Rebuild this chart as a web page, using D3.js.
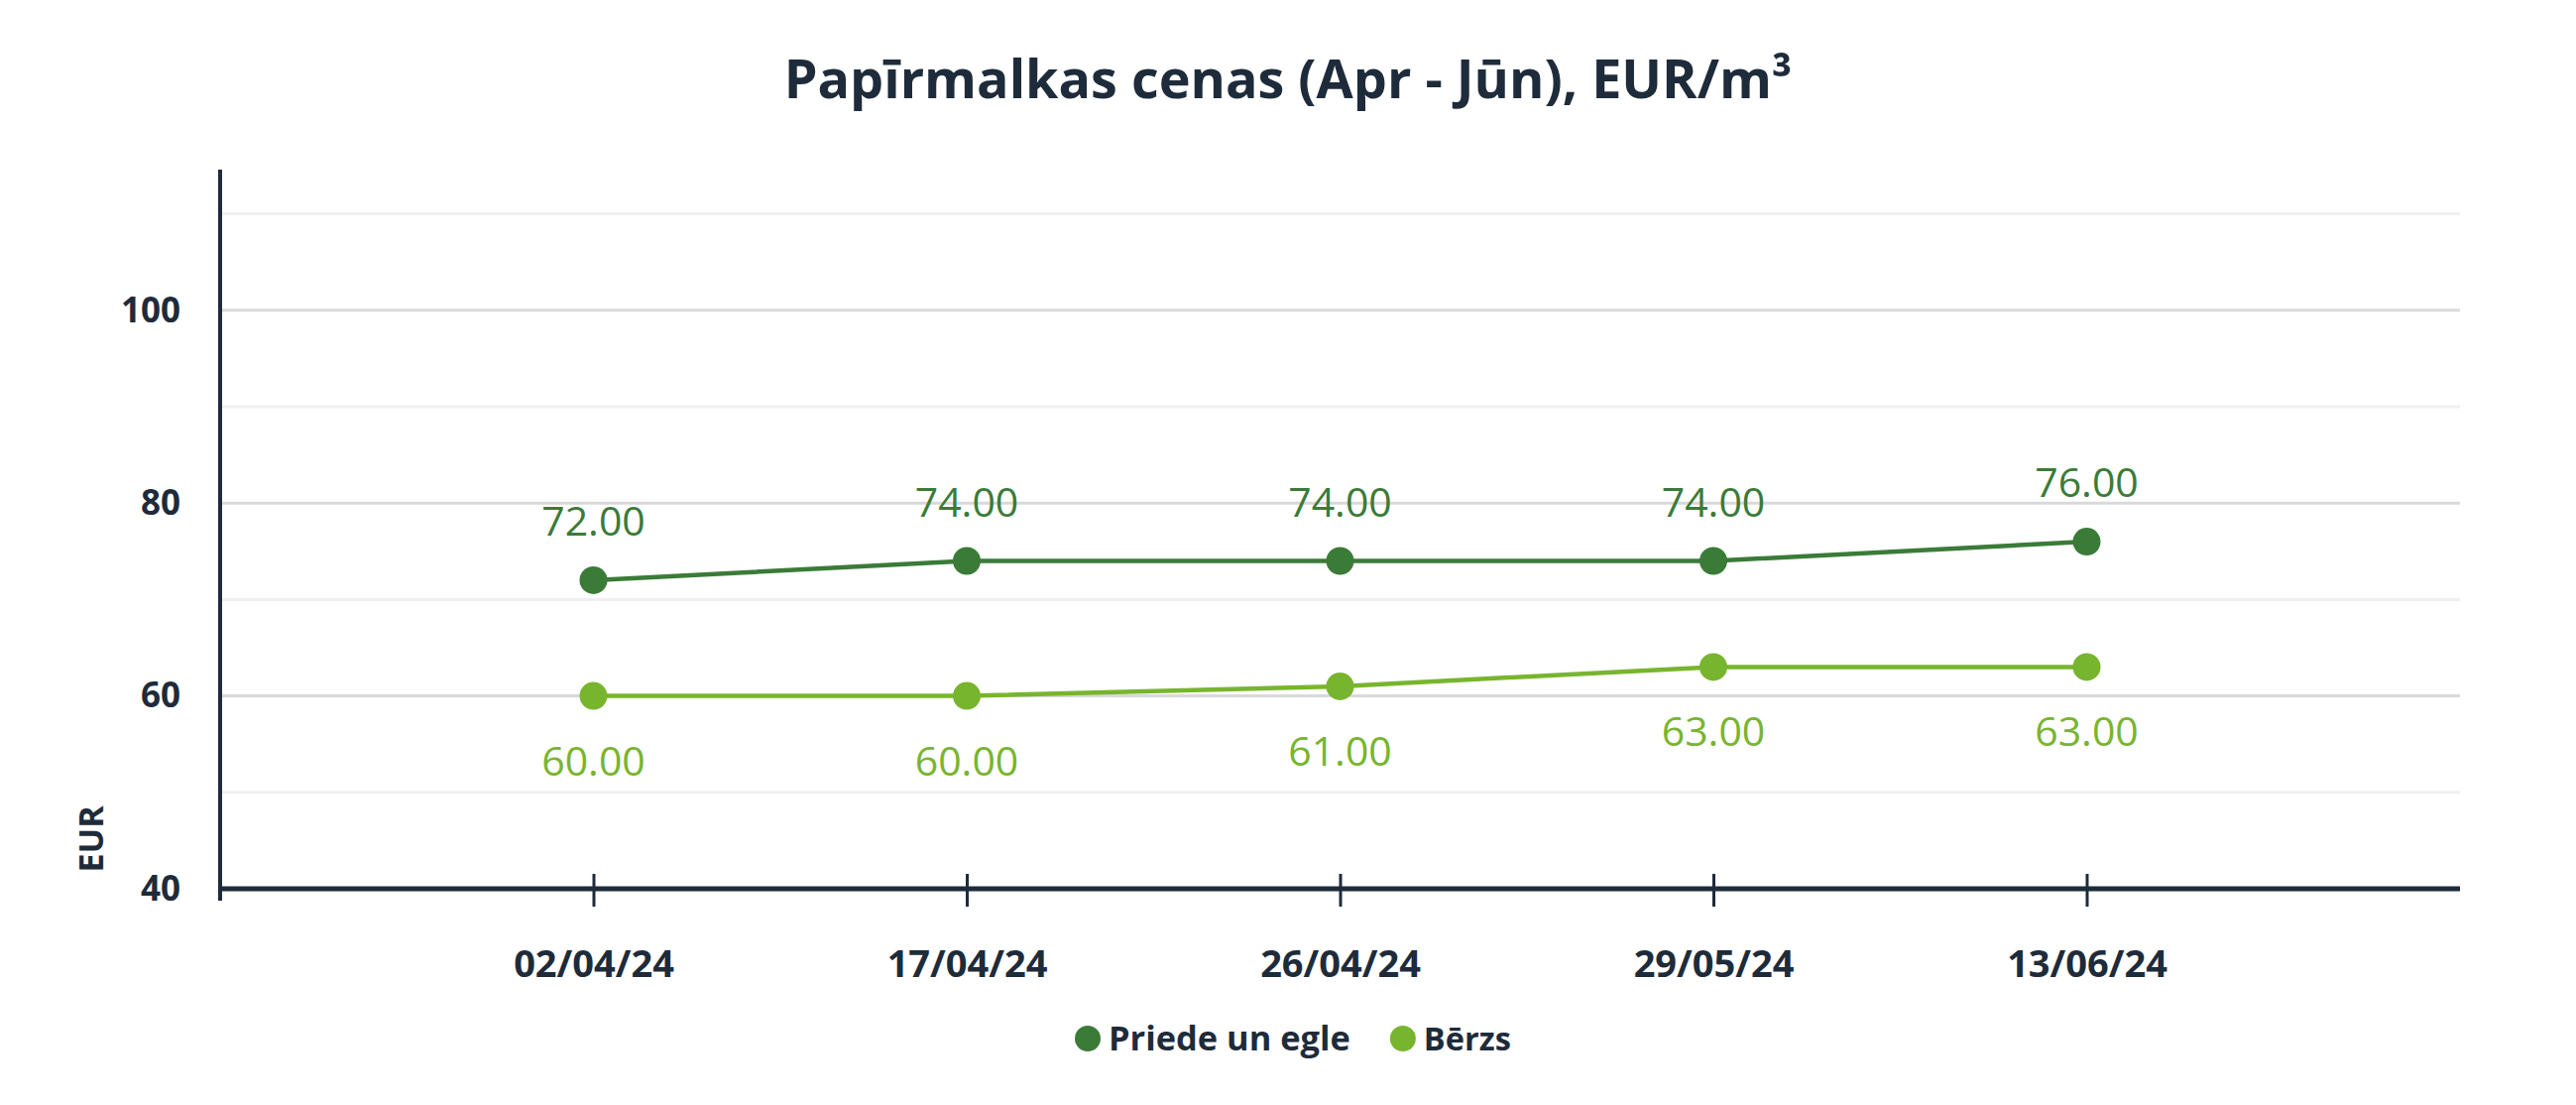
<!DOCTYPE html>
<html>
<head>
<meta charset="utf-8">
<script src="https://cdn.jsdelivr.net/npm/d3@7"></script>
<style>
  html, body { margin: 0; padding: 0; background: #ffffff; }
  svg { display: block; }
</style>
</head>
<body>
<svg id="chart" width="2598" height="1114"></svg>
<script>
// ---- data ----
const title = "Papīrmalkas cenas (Apr - Jūn), EUR/m³";
const categories = ["02/04/24", "17/04/24", "26/04/24", "29/05/24", "13/06/24"];
const seriesNames = ["Priede un egle", "Bērzs"];
const priedeValues = [72, 74, 74, 74, 76];
const berzsValues = [60, 60, 61, 63, 63];
const yTickLabels = [40, 60, 80, 100];
const yGridValues = [50, 60, 70, 80, 90, 100, 110];
const yDomain = [40, 115];
const yAxisTitle = "EUR";

// ---- styles ----
const darkText = "#1e2b3a";
const colors = ["#3a7b38", "#78b52e"];

const svg = d3.select("#chart");
const W = 2598, H = 1114;
const plot = { left: 222, right: 2481, top: 167, bottom: 896 };

const x = d3.scalePoint().domain(categories).range([plot.left, plot.right]).padding(1);
const y = d3.scaleLinear().domain(yDomain).range([plot.bottom, plot.top]);

function fitFont(sel, target) {
  const w = sel.node().getComputedTextLength();
  const fs = parseFloat(sel.attr("font-size"));
  sel.attr("font-size", fs * target / w);
}

// title
const t = svg.append("text")
  .attr("x", W / 2).attr("y", 99)
  .attr("text-anchor", "middle")
  .attr("font-family", "'Open Sans', sans-serif")
  .attr("font-weight", 700)
  .attr("font-size", 56)
  .attr("fill", darkText)
  .text(title);
fitFont(t, 1017);

// gridlines
svg.append("g").selectAll("line")
  .data(yGridValues)
  .join("line")
  .attr("x1", plot.left).attr("x2", plot.right)
  .attr("y1", d => y(d)).attr("y2", d => y(d))
  .attr("stroke", d => (d % 20 === 0 ? "#d9d9d9" : "#f0f0f0"))
  .attr("stroke-width", 3);

// y axis
const yAxis = d3.axisLeft(y).tickValues(yTickLabels).tickSize(0).tickPadding(40).tickFormat(d3.format("d"));
const gy = svg.append("g").attr("transform", `translate(${plot.left},0)`).call(yAxis);
gy.select(".domain").attr("stroke", darkText).attr("stroke-width", 4)
  .attr("d", `M0,${y(yDomain[1]) + 4}V${plot.bottom + 12}`);
gy.selectAll("text")
  .attr("font-family", "'Open Sans', sans-serif")
  .attr("font-weight", 700)
  .attr("font-size", 35)
  .attr("fill", darkText);

// x axis
const xAxis = d3.axisBottom(x).tickSize(0).tickPadding(62);
const gx = svg.append("g").attr("transform", `translate(0,${plot.bottom})`).call(xAxis);
gx.select(".domain").attr("stroke", darkText).attr("stroke-width", 5)
  .attr("d", `M${plot.left},0H${plot.right}`);
gx.selectAll(".tick").append("line")
  .attr("y1", -15).attr("y2", 18)
  .attr("stroke", darkText).attr("stroke-width", 3);
gx.selectAll("text")
  .attr("font-family", "'Open Sans', sans-serif")
  .attr("font-weight", 700)
  .attr("font-size", 38)
  .attr("fill", darkText);

// y axis title
svg.append("text")
  .attr("transform", `translate(104,846) rotate(-90)`)
  .attr("text-anchor", "middle")
  .attr("font-family", "'Open Sans', sans-serif")
  .attr("font-weight", 700)
  .attr("font-size", 34)
  .attr("fill", darkText)
  .text(yAxisTitle);

// series
const series = [
  { name: seriesNames[0], values: priedeValues, color: colors[0], labelDy: -45 },
  { name: seriesNames[1], values: berzsValues, color: colors[1], labelDy: 80 }
];
const line = d3.line().x((d, i) => x(categories[i])).y(d => y(d));

series.forEach(s => {
  const g = svg.append("g");
  g.append("path")
    .attr("d", line(s.values))
    .attr("fill", "none")
    .attr("stroke", s.color)
    .attr("stroke-width", 4.5);
  g.selectAll("circle")
    .data(s.values)
    .join("circle")
    .attr("cx", (d, i) => x(categories[i]))
    .attr("cy", d => y(d))
    .attr("r", 14)
    .attr("fill", s.color);
  g.selectAll("text")
    .data(s.values)
    .join("text")
    .attr("x", (d, i) => x(categories[i]))
    .attr("y", d => y(d) + s.labelDy)
    .attr("text-anchor", "middle")
    .attr("font-family", "'Open Sans', sans-serif")
    .attr("font-size", 41)
    .attr("fill", s.color)
    .text(d => d3.format(".2f")(d));
});

// legend
const legend = svg.append("g");
let cursor = 0;
series.forEach((s, i) => {
  const item = legend.append("g");
  item.append("circle").attr("cx", 13).attr("cy", 0).attr("r", 13).attr("fill", s.color);
  const txt = item.append("text")
    .attr("x", 34).attr("y", 12)
    .attr("font-family", "'Open Sans', sans-serif")
    .attr("font-weight", 700)
    .attr("font-size", 34)
    .attr("fill", darkText)
    .text(s.name);
  fitFont(txt, i === 0 ? 244 : 88);
  const w = 34 + txt.node().getComputedTextLength();
  item.attr("transform", `translate(${cursor},0)`);
  cursor += w + 40;
});
legend.attr("transform", `translate(${1084},1047)`);
</script>
</body>
</html>
